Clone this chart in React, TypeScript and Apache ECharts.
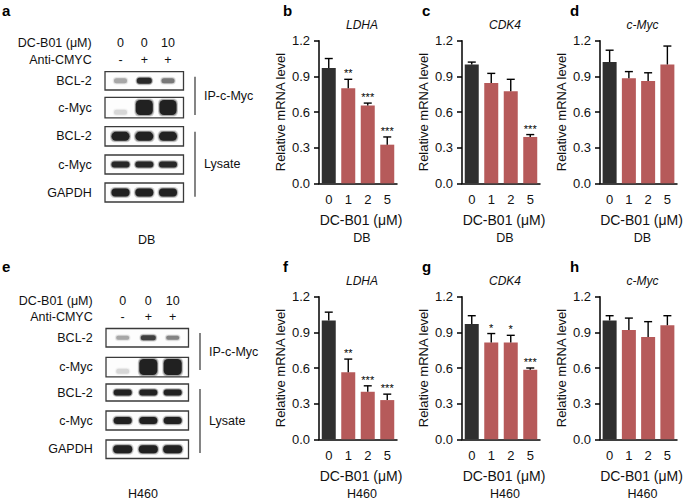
import React, { useEffect, useRef } from "react";
import * as echarts from "echarts";

// ---------- data ----------
const doses = ["0", "1", "2", "5"];
const doseAxisName = "DC-B01 (μM)";

const dbLdhaMean = [0.97, 0.8, 0.655, 0.325];
const dbLdhaErr = [0.08, 0.075, 0.02, 0.065];
const dbLdhaSig = ["", "**", "***", "***"];

const dbCdk4Mean = [1.0, 0.845, 0.775, 0.39];
const dbCdk4Err = [0.02, 0.08, 0.1, 0.02];
const dbCdk4Sig = ["", "", "", "***"];

const dbMycMean = [1.02, 0.885, 0.86, 1.0];
const dbMycErr = [0.1, 0.055, 0.07, 0.155];
const dbMycSig = ["", "", "", ""];

const h460LdhaMean = [1.0, 0.565, 0.4, 0.33];
const h460LdhaErr = [0.07, 0.11, 0.05, 0.05];
const h460LdhaSig = ["", "**", "***", "***"];

const h460Cdk4Mean = [0.97, 0.815, 0.815, 0.585];
const h460Cdk4Err = [0.07, 0.075, 0.06, 0.015];
const h460Cdk4Sig = ["", "*", "*", "***"];

const h460MycMean = [1.0, 0.92, 0.86, 0.96];
const h460MycErr = [0.04, 0.1, 0.13, 0.08];
const h460MycSig = ["", "", "", ""];

const blotDoses = ["0", "0", "10"];
const antiCmyc = ["-", "+", "+"];
const blotRows = ["BCL-2", "c-Myc", "BCL-2", "c-Myc", "GAPDH"];
const blotGroups = ["IP-c-Myc", "Lysate"];
const dbBands = [
  [0.3, 0.95, 0.5],
  [0.12, 1, 1],
  [1, 1, 1],
  [0.95, 0.95, 0.95],
  [1, 1, 1],
];
const h460Bands = [
  [0.3, 0.8, 0.45],
  [0.12, 1, 1],
  [1, 1, 1],
  [1, 1, 1],
  [1, 1, 1],
];

// ---------- layout / style ----------
const FONT = '"Liberation Sans", Arial, Helvetica, sans-serif';
const DARK = "#2f2f2f";
const RED = "#b65a5a";
const INK = "#111";

type Panel = {
  letter: string;
  gene: string;
  cell: string;
  mean: number[];
  err: number[];
  sig: string[];
};

const panels: Panel[] = [
  { letter: "b", gene: "LDHA", cell: "DB", mean: dbLdhaMean, err: dbLdhaErr, sig: dbLdhaSig },
  { letter: "c", gene: "CDK4", cell: "DB", mean: dbCdk4Mean, err: dbCdk4Err, sig: dbCdk4Sig },
  { letter: "d", gene: "c-Myc", cell: "DB", mean: dbMycMean, err: dbMycErr, sig: dbMycSig },
  { letter: "f", gene: "LDHA", cell: "H460", mean: h460LdhaMean, err: h460LdhaErr, sig: h460LdhaSig },
  { letter: "g", gene: "CDK4", cell: "H460", mean: h460Cdk4Mean, err: h460Cdk4Err, sig: h460Cdk4Sig },
  { letter: "h", gene: "c-Myc", cell: "H460", mean: h460MycMean, err: h460MycErr, sig: h460MycSig },
];

const gridLefts = [319, 462, 600];
const gridWidths = [78, 78, 77];
const gridTops = [40.7, 296.7];
const GRID_H = 142.6;
const letterX = [283, 422, 570];

type BlotLayout = {
  letterY: number;
  headerY: number[];
  labelRight: number;
  boxLeft: number;
  boxRight: number;
  lanes: number[];
  rowTops: number[];
  rowHeights: number[];
  bandH: number[];
  bandW: number[];
  bracketX: number;
  brackets: number[][];
  cellX: number;
  cellY: number;
  cell: string;
  letter: string;
  bands: number[][];
};

const blotLayouts: BlotLayout[] = [
  {
    letter: "a",
    letterY: 10,
    headerY: [42.7, 60],
    labelRight: 91.7,
    boxLeft: 105,
    boxRight: 183.5,
    lanes: [120.5, 144.3, 168],
    rowTops: [71.7, 97.3, 126.7, 155, 183],
    rowHeights: [18.3, 20.5, 19.3, 19, 19],
    bandH: [6, 15, 9, 6, 8],
    bandW: [15, 17, 18, 18, 18],
    bracketX: 195,
    brackets: [
      [76.7, 115],
      [131.7, 196.7],
    ],
    cellX: 146.7,
    cellY: 239.5,
    cell: "DB",
    bands: dbBands,
  },
  {
    letter: "e",
    letterY: 266,
    headerY: [300.7, 316.7],
    labelRight: 92.7,
    boxLeft: 106,
    boxRight: 188.5,
    lanes: [122.7, 148.3, 172.7],
    rowTops: [328.5, 357.3, 384, 411, 440],
    rowHeights: [18.5, 19.5, 17, 19, 18.5],
    bandH: [5, 16, 6, 7, 8],
    bandW: [15, 18, 18, 18, 19],
    bracketX: 200,
    brackets: [
      [333, 370],
      [389, 453],
    ],
    cellX: 143,
    cellY: 494,
    cell: "H460",
    bands: h460Bands,
  },
];

function txt(x: number, y: number, text: string, opts: any = {}) {
  return {
    type: "text",
    x,
    y,
    silent: true,
    style: {
      text,
      fill: INK,
      fontFamily: FONT,
      fontSize: 12.5,
      textAlign: "left",
      textVerticalAlign: "middle",
      ...opts,
    },
  };
}

function bandRect(cx: number, cy: number, w: number, h: number, fill: string) {
  return {
    type: "rect",
    silent: true,
    shape: { x: cx - w / 2, y: cy - h / 2, width: w, height: h, r: Math.min(h / 2, 4.5) },
    style: { fill },
  };
}

function blotGraphics(L: BlotLayout) {
  const g: any[] = [];
  g.push(txt(2, L.letterY, L.letter, { fontWeight: "bold", fontSize: 15, fill: "#000" }));
  g.push(txt(L.labelRight, L.headerY[0], "DC-B01 (μM)", { textAlign: "right" }));
  g.push(txt(L.labelRight, L.headerY[1], "Anti-CMYC", { textAlign: "right" }));
  L.lanes.forEach((lx, k) => {
    g.push(txt(lx, L.headerY[0], blotDoses[k], { textAlign: "center" }));
    g.push(txt(lx, L.headerY[1], antiCmyc[k], { textAlign: "center" }));
  });
  blotRows.forEach((name, r) => {
    const top = L.rowTops[r];
    const h = L.rowHeights[r];
    const cy = top + h / 2;
    g.push(txt(L.labelRight, cy, name, { textAlign: "right" }));
    g.push({
      type: "rect",
      silent: true,
      shape: { x: L.boxLeft, y: top, width: L.boxRight - L.boxLeft, height: h },
      style: { fill: "#fdfdfd", stroke: "#3a3a3a", lineWidth: 1.3 },
    });
    L.lanes.forEach((lx, k) => {
      const a = L.bands[r][k];
      let bh = L.bandH[r];
      let bw = L.bandW[r];
      let by = cy;
      if (a < 0.2) {
        bh = 5;
        bw = 13;
        by = top + h - bh / 2 - 3;
      } else if (r === 0 && a < 0.6) {
        bw -= 2;
        bh -= 1;
      }
      // soft halo layers to imitate a blurred band
      g.push(bandRect(lx, by, bw + 3, bh + 3, `rgba(20,20,20,${a * 0.18})`));
      g.push(bandRect(lx, by, bw + 1.5, bh + 1.5, `rgba(20,20,20,${a * 0.3})`));
      g.push(bandRect(lx, by, bw, bh, `rgba(12,12,12,${a * 0.85})`));
    });
  });
  L.brackets.forEach((b, i) => {
    g.push({
      type: "line",
      silent: true,
      shape: { x1: L.bracketX, y1: b[0], x2: L.bracketX, y2: b[1] },
      style: { stroke: "#333", lineWidth: 1.2 },
    });
    g.push(txt(L.bracketX + 9, (b[0] + b[1]) / 2, blotGroups[i]));
  });
  g.push(txt(L.cellX, L.cellY, L.cell, { textAlign: "center", fontSize: 12.5 }));
  return g;
}

function buildOption() {
  const grid: any[] = [];
  const xAxis: any[] = [];
  const yAxis: any[] = [];
  const series: any[] = [];
  const graphic: any[] = [];

  panels.forEach((p, i) => {
    const col = i % 3;
    const row = Math.floor(i / 3);
    const left = gridLefts[col];
    const top = gridTops[row];
    const width = gridWidths[col];
    grid.push({ left, top, width, height: GRID_H });
    xAxis.push({
      type: "category",
      gridIndex: i,
      data: doses,
      axisLine: { lineStyle: { color: "#000", width: 1.5 } },
      axisTick: { alignWithLabel: true, length: 4, lineStyle: { color: "#000", width: 1.5 } },
      axisLabel: { fontSize: 13, color: INK, margin: 10, fontFamily: FONT },
    });
    yAxis.push({
      type: "value",
      gridIndex: i,
      min: 0,
      max: 1.2,
      interval: 0.3,
      axisLine: { show: true, lineStyle: { color: "#000", width: 1.5 } },
      axisTick: { show: true, length: 5, lineStyle: { color: "#000", width: 1.5 } },
      splitLine: { show: false },
      axisLabel: {
        fontSize: 13,
        color: INK,
        margin: 9,
        fontFamily: FONT,
        formatter: (v: number) => v.toFixed(1),
      },
      name: "Relative mRNA level",
      nameLocation: "middle",
      nameGap: 32,
      nameTextStyle: { fontSize: 13, color: INK, fontFamily: FONT },
    });
    series.push({
      type: "bar",
      xAxisIndex: i,
      yAxisIndex: i,
      barWidth: 14,
      silent: true,
      data: p.mean.map((v, j) => ({ value: v, itemStyle: { color: j === 0 ? DARK : RED } })),
    });
    series.push({
      type: "custom",
      xAxisIndex: i,
      yAxisIndex: i,
      silent: true,
      clip: false,
      z: 5,
      data: p.mean.map((v, j) => [j, v, p.err[j]]),
      renderItem: (params: any, api: any) => {
        const j = api.value(0);
        const m = api.value(1);
        const e = api.value(2);
        const p0 = api.coord([j, m]);
        const p1 = api.coord([j, m + e]);
        const cap = 4;
        const children: any[] = [
          {
            type: "line",
            shape: { x1: p0[0], y1: p0[1], x2: p1[0], y2: p1[1] },
            style: { stroke: "#000", lineWidth: 1.4 },
          },
          {
            type: "line",
            shape: { x1: p1[0] - cap, y1: p1[1], x2: p1[0] + cap, y2: p1[1] },
            style: { stroke: "#000", lineWidth: 1.4 },
          },
        ];
        const s = p.sig[params.dataIndex];
        if (s) {
          children.push({
            type: "text",
            x: p1[0],
            y: p1[1] - 0.5,
            style: {
              text: s,
              fill: "#000",
              fontSize: 11,
              fontFamily: FONT,
              textAlign: "center",
              textVerticalAlign: "bottom",
            },
          });
        }
        return { type: "group", children };
      },
    });
    const cx = left + width / 2 + 3;
    graphic.push(txt(letterX[col], top - 30, p.letter, { fontWeight: "bold", fontSize: 15, fill: "#000" }));
    graphic.push(txt(cx + 1, top - 15.5, p.gene, { textAlign: "center", fontStyle: "italic", fontSize: 12 }));
    graphic.push(txt(cx, top + GRID_H + 37, doseAxisName, { textAlign: "center", fontSize: 14 }));
    graphic.push(txt(cx + 1, top + GRID_H + 55, p.cell, { textAlign: "center", fontSize: 12.5 }));
  });

  blotLayouts.forEach((L) => graphic.push(...blotGraphics(L)));

  return {
    animation: false,
    backgroundColor: "#fff",
    textStyle: { fontFamily: FONT },
    grid,
    xAxis,
    yAxis,
    series,
    graphic,
  };
}

export default function App() {
  const ref = useRef<HTMLDivElement>(null);
  useEffect(() => {
    if (!ref.current) return;
    const chart = echarts.init(ref.current, undefined, { renderer: "svg" });
    chart.setOption(buildOption() as any);
    return () => chart.dispose();
  }, []);
  return (
    <div
      ref={ref}
      style={{ position: "fixed", left: 0, top: 0, width: 685, height: 501, background: "#fff" }}
    />
  );
}
